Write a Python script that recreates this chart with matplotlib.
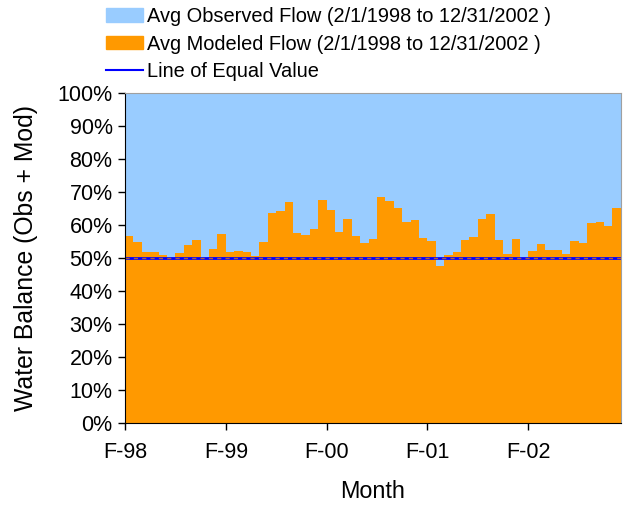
import numpy as np
import matplotlib.pyplot as plt
from matplotlib.patches import Patch
from matplotlib.lines import Line2D

plt.rcParams['font.family'] = ['Liberation Sans', 'DejaVu Sans']

# modeled share of (obs + mod), percent, monthly Feb 1998 - Dec 2002
modeled = [56.7, 54.8, 51.8, 51.8, 50.9, 49.9, 51.5, 53.9, 55.5, 49.8,
           52.7, 57.3, 51.8, 52.1, 51.8, 50.6, 54.8, 63.6, 64.2, 67.0,
           57.6, 57.0, 58.8, 67.6, 64.5, 57.9, 61.8, 56.7, 54.5, 55.8,
           68.5, 67.3, 65.2, 60.9, 61.5, 56.1, 55.2, 47.6, 50.9, 51.8,
           55.5, 56.4, 61.8, 63.3, 55.5, 51.2, 55.8, 49.9, 52.1, 54.2,
           52.4, 52.4, 51.2, 55.2, 54.5, 60.6, 60.9, 59.7, 65.2]
observed = [100 - m for m in modeled]
tick_labels = ['F-98', 'F-99', 'F-00', 'F-01', 'F-02']
equal_value = 50

fig = plt.figure(figsize=(6.27, 5.08), dpi=100)
ax = fig.add_axes([0.1994, 0.1673, 0.7906, 0.6497])

x = np.arange(len(modeled))
ax.bar(x, modeled, width=1.0, align='edge', color='#FF9900', linewidth=0)
ax.bar(x, observed, bottom=modeled, width=1.0, align='edge', color='#99CCFF', linewidth=0)

# line of equal value
ax.axhline(equal_value, color='#0000FF', lw=2.0)
ax.axhline(equal_value, color='#B06040', lw=1.0, ls=(0, (3, 3)))

ax.set_xlim(0, len(modeled))
ax.set_ylim(0, 100)
ax.set_yticks(np.arange(0, 101, 10))
ax.set_yticklabels([f'{v}%' for v in range(0, 101, 10)])
ax.set_xticks(np.arange(0, 12 * len(tick_labels), 12))
ax.set_xticklabels(tick_labels)
ax.tick_params(direction='out', length=5, width=1, labelsize=15.5, color='black')
ax.tick_params(axis='x', pad=9)
ax.tick_params(axis='y', pad=4)

for s in ['top', 'right']:
    ax.spines[s].set_color('#A0A0A0')
for s in ['left', 'bottom']:
    ax.spines[s].set_color('black')

ax.set_xlabel('Month', fontsize=16.8, labelpad=12)
ax.set_ylabel('Water Balance (Obs + Mod)', fontsize=17.8, labelpad=14)

handles = [Patch(color='#99CCFF'), Patch(color='#FF9900'),
           Line2D([], [], color='#0000FF', lw=1.5)]
labels = ['Avg Observed Flow (2/1/1998 to 12/31/2002 )',
          'Avg Modeled Flow (2/1/1998 to 12/31/2002 )',
          'Line of Equal Value']
fig.legend(handles, labels, loc='upper left', bbox_to_anchor=(0.162, 0.994),
           frameon=False, fontsize=14.4, handlelength=1.85, handleheight=0.65,
           handletextpad=0.2, labelspacing=0.43, borderaxespad=0,
           borderpad=0.2)

fig.savefig('out.png', dpi=100)
